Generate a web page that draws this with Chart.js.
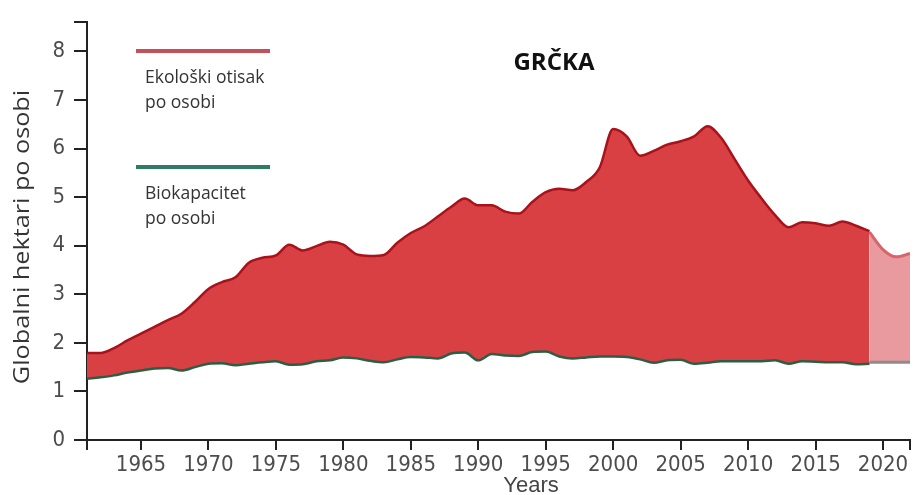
<!DOCTYPE html>
<html lang="hr">
<head>
    <meta charset="UTF-8">
    <title>Grčka - ekološki otisak</title>
    <script src="https://cdn.jsdelivr.net/npm/chart.js"></script>
    <style>
        body { margin: 0; background: #fff; }
    </style>
</head>
<body>

    <canvas id="myChart" width="914" height="495"></canvas>

    <script>

        // Data block
        const years = [];
        for (let y = 1961; y <= 2019; y++) years.push(y);

        const footprint = [
            1.79, 1.79, 1.89, 2.05, 2.19, 2.33, 2.47, 2.60, 2.84, 3.11,
            3.25, 3.35, 3.65, 3.75, 3.80, 4.02, 3.90, 3.99, 4.08, 4.02,
            3.82, 3.79, 3.81, 4.06, 4.26, 4.40, 4.60, 4.80, 4.97, 4.83,
            4.83, 4.70, 4.66, 4.90, 5.10, 5.17, 5.14, 5.31, 5.61, 6.40,
            6.25, 5.85, 5.95, 6.08, 6.15, 6.25, 6.46, 6.22, 5.78, 5.34,
            4.97, 4.63, 4.38, 4.48, 4.46, 4.41, 4.50, 4.41, 4.30
        ];

        const biocapacity = [
            1.26, 1.29, 1.33, 1.39, 1.43, 1.47, 1.48, 1.43, 1.50, 1.57,
            1.58, 1.54, 1.57, 1.60, 1.62, 1.55, 1.56, 1.62, 1.64, 1.70,
            1.68, 1.63, 1.60, 1.66, 1.71, 1.70, 1.68, 1.78, 1.80, 1.64,
            1.77, 1.74, 1.73, 1.81, 1.82, 1.72, 1.68, 1.70, 1.72, 1.72,
            1.71, 1.66, 1.59, 1.64, 1.65, 1.57, 1.59, 1.62, 1.62, 1.62,
            1.62, 1.64, 1.57, 1.62, 1.61, 1.60, 1.60, 1.56, 1.57
        ];

        // projected years (lighter part)
        const projYears = [2019, 2020, 2021, 2022];
        const projFootprint = [4.28, 3.92, 3.77, 3.84];
        const projBiocapacity = [1.60, 1.60, 1.60, 1.60];

        const yTicks = [0, 1, 2, 3, 4, 5, 6, 7, 8, 8.6];
        const xTicks = [1961, 1965, 1970, 1975, 1980, 1985, 1990, 1995, 2000, 2005, 2010, 2015, 2020, 2022];

        const titleText = 'GRČKA';
        const yTitle = 'Globalni hektari po osobi';
        const xTitle = 'Years';
        const legendItems = [
            { lines: ['Ekološki otisak', 'po osobi'], color: '#c4505a' },
            { lines: ['Biokapacitet', 'po osobi'], color: '#2e7d62' }
        ];

        const pts = (xs, ys) => xs.map((x, i) => ({ x: x, y: ys[i] }));

        // Setup Block
        const data = {
            datasets: [
                {
                    data: pts(years, biocapacity),
                    borderColor: '#2b5e45',
                    borderWidth: 2.5,
                    fill: false
                },
                {
                    data: pts(years, footprint),
                    borderColor: '#a8121a',
                    borderWidth: 2.5,
                    backgroundColor: '#d94044',
                    fill: { target: 0 }
                },
                {
                    data: pts(projYears, projBiocapacity),
                    borderColor: '#8c8c8c',
                    borderWidth: 3,
                    fill: false
                },
                {
                    data: pts(projYears, projFootprint),
                    borderColor: '#d8646c',
                    borderWidth: 3,
                    backgroundColor: '#e99a9e',
                    fill: { target: 2 }
                }
            ]
        };

        // text that sits on the canvas (title, legend, axis titles)
        const textPlugin = {
            id: 'texts',
            afterDraw(chart) {
                const ctx = chart.ctx;
                ctx.save();

                // title
                ctx.fillStyle = '#111';
                ctx.font = "bold 24px 'Open Sans', sans-serif";
                ctx.textAlign = 'center';
                ctx.textBaseline = 'alphabetic';
                ctx.fillText(titleText, 554, 70);

                // legend
                const tops = [51, 167];
                ctx.textAlign = 'left';
                ctx.font = "17.5px 'Open Sans', sans-serif";
                legendItems.forEach((item, i) => {
                    ctx.strokeStyle = item.color;
                    ctx.lineWidth = 4;
                    ctx.beginPath();
                    ctx.moveTo(136, tops[i]);
                    ctx.lineTo(270, tops[i]);
                    ctx.stroke();
                    ctx.fillStyle = '#333';
                    item.lines.forEach((t, j) => {
                        ctx.fillText(t, 145, tops[i] + 32 + j * 25);
                    });
                });

                // x title
                ctx.fillStyle = '#444';
                ctx.textAlign = 'center';
                ctx.font = "22px 'Liberation Sans', Arial, sans-serif";
                ctx.fillText(xTitle, 531, 492);

                // y title (rotated, a bit stretched like the original)
                ctx.fillStyle = '#333';
                ctx.translate(29, 237);
                ctx.rotate(-Math.PI / 2);
                ctx.scale(1.2, 1);
                ctx.font = "21px 'Open Sans', sans-serif";
                ctx.fillText(yTitle, 0, 0);

                ctx.restore();
            }
        };

        const tickFont = { family: "'Liberation Sans Narrow', 'DejaVu Sans Condensed', sans-serif", size: 22 };

        // Config Block
        const config = {
            type: 'line',
            data,
            options: {
                responsive: false,
                animation: false,
                devicePixelRatio: 1,
                layout: { padding: { top: 16, right: 4, left: 0, bottom: 0 } },
                elements: {
                    point: { radius: 0 },
                    line: { cubicInterpolationMode: 'monotone' }
                },
                scales: {
                    x: {
                        type: 'linear',
                        min: 1961,
                        max: 2022,
                        afterBuildTicks: scale => { scale.ticks = xTicks.map(v => ({ value: v })); },
                        afterFit: scale => { scale.height = 55; },
                        ticks: {
                            autoSkip: false,
                            maxRotation: 0,
                            padding: 2,
                            color: '#4d4d4d',
                            font: tickFont,
                            callback: v => (v % 5 === 0 ? String(v) : '')
                        },
                        grid: {
                            drawOnChartArea: false,
                            drawTicks: true,
                            tickLength: 10,
                            color: '#222',
                            lineWidth: 2
                        },
                        border: { color: '#222', width: 2 }
                    },
                    y: {
                        min: 0,
                        max: 8.6,
                        afterBuildTicks: scale => { scale.ticks = yTicks.map(v => ({ value: v })); },
                        afterFit: scale => { scale.width = 87; },
                        ticks: {
                            autoSkip: false,
                            padding: 9,
                            color: '#4d4d4d',
                            font: tickFont,
                            callback: v => (Number.isInteger(v) ? String(v) : '')
                        },
                        grid: {
                            drawOnChartArea: false,
                            drawTicks: true,
                            tickLength: 13,
                            color: '#222',
                            lineWidth: 2
                        },
                        border: { color: '#222', width: 2 }
                    }
                },
                plugins: {
                    legend: { display: false },
                    tooltip: { enabled: false },
                    filler: { propagate: false }
                }
            },
            plugins: [textPlugin]
        };

        // Render block
        const myChart = new Chart(
            document.getElementById('myChart'),
            config
        );

    </script>

</body>
</html>
